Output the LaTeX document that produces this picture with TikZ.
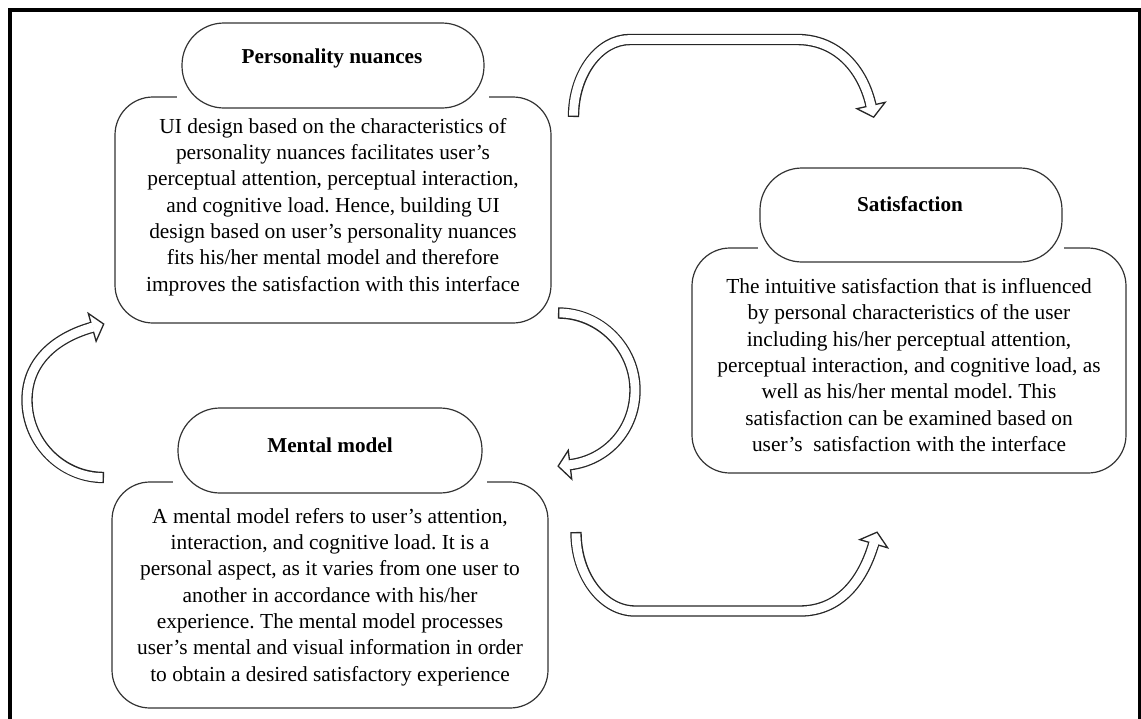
\documentclass[tikz,border=0pt]{standalone}
\usepackage{fontspec}
\setmainfont{Liberation Serif}
\usetikzlibrary{calc}
\frenchspacing
\tikzset{
  box/.style={draw=black!80, line width=1.2pt, fill=white, rounded corners=38pt, rectangle, inner sep=0pt},
  pill/.style={draw=black!80, line width=1.2pt, fill=white, rounded corners=42pt, rectangle, inner sep=0pt},
  bodytext/.style={align=center, font=\fontsize{21.4}{26.3}\selectfont\frenchspacing, inner sep=0pt},
  titletext/.style={font=\fontsize{21.2}{26}\selectfont\bfseries, inner sep=0pt},
  band/.style={line width=11.4pt, draw=black!85, line cap=butt},
  bandin/.style={line width=8.8pt, draw=white, line cap=butt},
  mask/.style={fill=white, draw=none},
}
\newcommand\blockarrow[4]{%
  \draw[band] #1;
  \filldraw[fill=white, draw=black!85, line width=1.3pt, line join=miter]
    ($(#2)+({-14.5*(#4)},{14.5*(#3)})$) -- ($(#2)+({12*(#3)},{12*(#4)})$)
    -- ($(#2)+({14.5*(#4)},{-14.5*(#3)})$) -- cycle;
  \draw[bandin, shorten <=1.4pt] #1;
  \draw[bandin] ($(#2)-({2*(#3)},{2*(#4)})$) -- ($(#2)+({1.2*(#3)},{1.2*(#4)})$);
}
\begin{document}
\begin{tikzpicture}[x=1pt, y=-1pt]
\useasboundingbox (0,0) rectangle (1141,718);
\begin{scope}
\clip (0,0) rectangle (1141,718);
\draw[line width=3.6pt] (10,730) -- (10,10) -- (1140,10) -- (1140,730);
\end{scope}

% Personality nuances
\node[box, minimum width=436pt, minimum height=226pt] (pbox) at (333,210) {};
\fill[mask] (177,94) rectangle (489,100);
\node[pill, minimum width=302pt, minimum height=85pt] (ppill) at (333,65.5) {};
\node[titletext] (ptitle) at (332,58) {Personality nuances};
\node[bodytext] (ptext) at (333,207) {UI design based on the characteristics of\\
personality nuances facilitates user’s\\
perceptual attention, perceptual interaction,\\
and cognitive load. Hence, building UI\\
design based on user’s personality nuances\\
fits his/her mental model and therefore\\
improves the satisfaction with this interface};

% Mental model
\node[box, minimum width=436pt, minimum height=226pt] (mbox) at (330,595) {};
\fill[mask] (173,479) rectangle (487,485);
\node[pill, minimum width=304pt, minimum height=85pt] (mpill) at (330,450.5) {};
\node[titletext] (mtitle) at (330,445) {Mental model};
\node[bodytext] (mtext) at (330,597) {A mental model refers to user’s attention,\\
interaction, and cognitive load. It is a\\
personal aspect, as it varies from one user to\\
another in accordance with his/her\\
experience. The mental model processes\\
user’s mental and visual information in order\\
to obtain a desired satisfactory experience};

% Satisfaction
\node[box, minimum width=434pt, minimum height=225pt] (sbox) at (909,360.5) {};
\fill[mask] (758,245) rectangle (1064,251);
\node[pill, minimum width=302pt, minimum height=94pt] (spill) at (911,215) {};
\node[titletext] (stitle) at (910,204) {Satisfaction};
\node[bodytext] (stext) at (909,365) {The intuitive satisfaction that is influenced\\
by personal characteristics of the user\\
including his/her perceptual attention,\\
perceptual interaction, and cognitive load, as\\
well as his/her mental model. This\\
satisfaction can be examined based on\\
user’s\ \ satisfaction with the interface};

% block arrows
\coordinate (a1t) at (573.5,117);
\coordinate (m1) at (871,105.5);
\blockarrow{(a1t) .. controls (573.5,74) and (599,39.5) .. (630,39.5) -- (797,39.5) .. controls (838,39.5) and (863,70.1) .. (m1)}{m1}{0.22}{0.975}

\coordinate (a2t) at (558,313);
\coordinate (m2) at (570,464.7);
\blockarrow{(a2t) .. controls (600,313) and (635,348) .. (635,390) .. controls (635,431) and (605.6,460.4) .. (m2)}{m2}{-0.99}{0.12}

\coordinate (a3t) at (104,477.5);
\coordinate (m3) at (92.2,327.3);
\blockarrow{(a3t) .. controls (61.6,477.5) and (27,442.6) .. (27,400) .. controls (27,360) and (57.6,337) .. (m3)}{m3}{0.96}{-0.27}

\coordinate (a4t) at (576,532);
\coordinate (m4) at (873.7,543.7);
\blockarrow{(a4t) .. controls (576,575.5) and (602.5,611) .. (635,611) -- (800,611) .. controls (840.7,611) and (863.3,579.2) .. (m4)}{m4}{0.28}{-0.96}
\end{tikzpicture}
\end{document}
